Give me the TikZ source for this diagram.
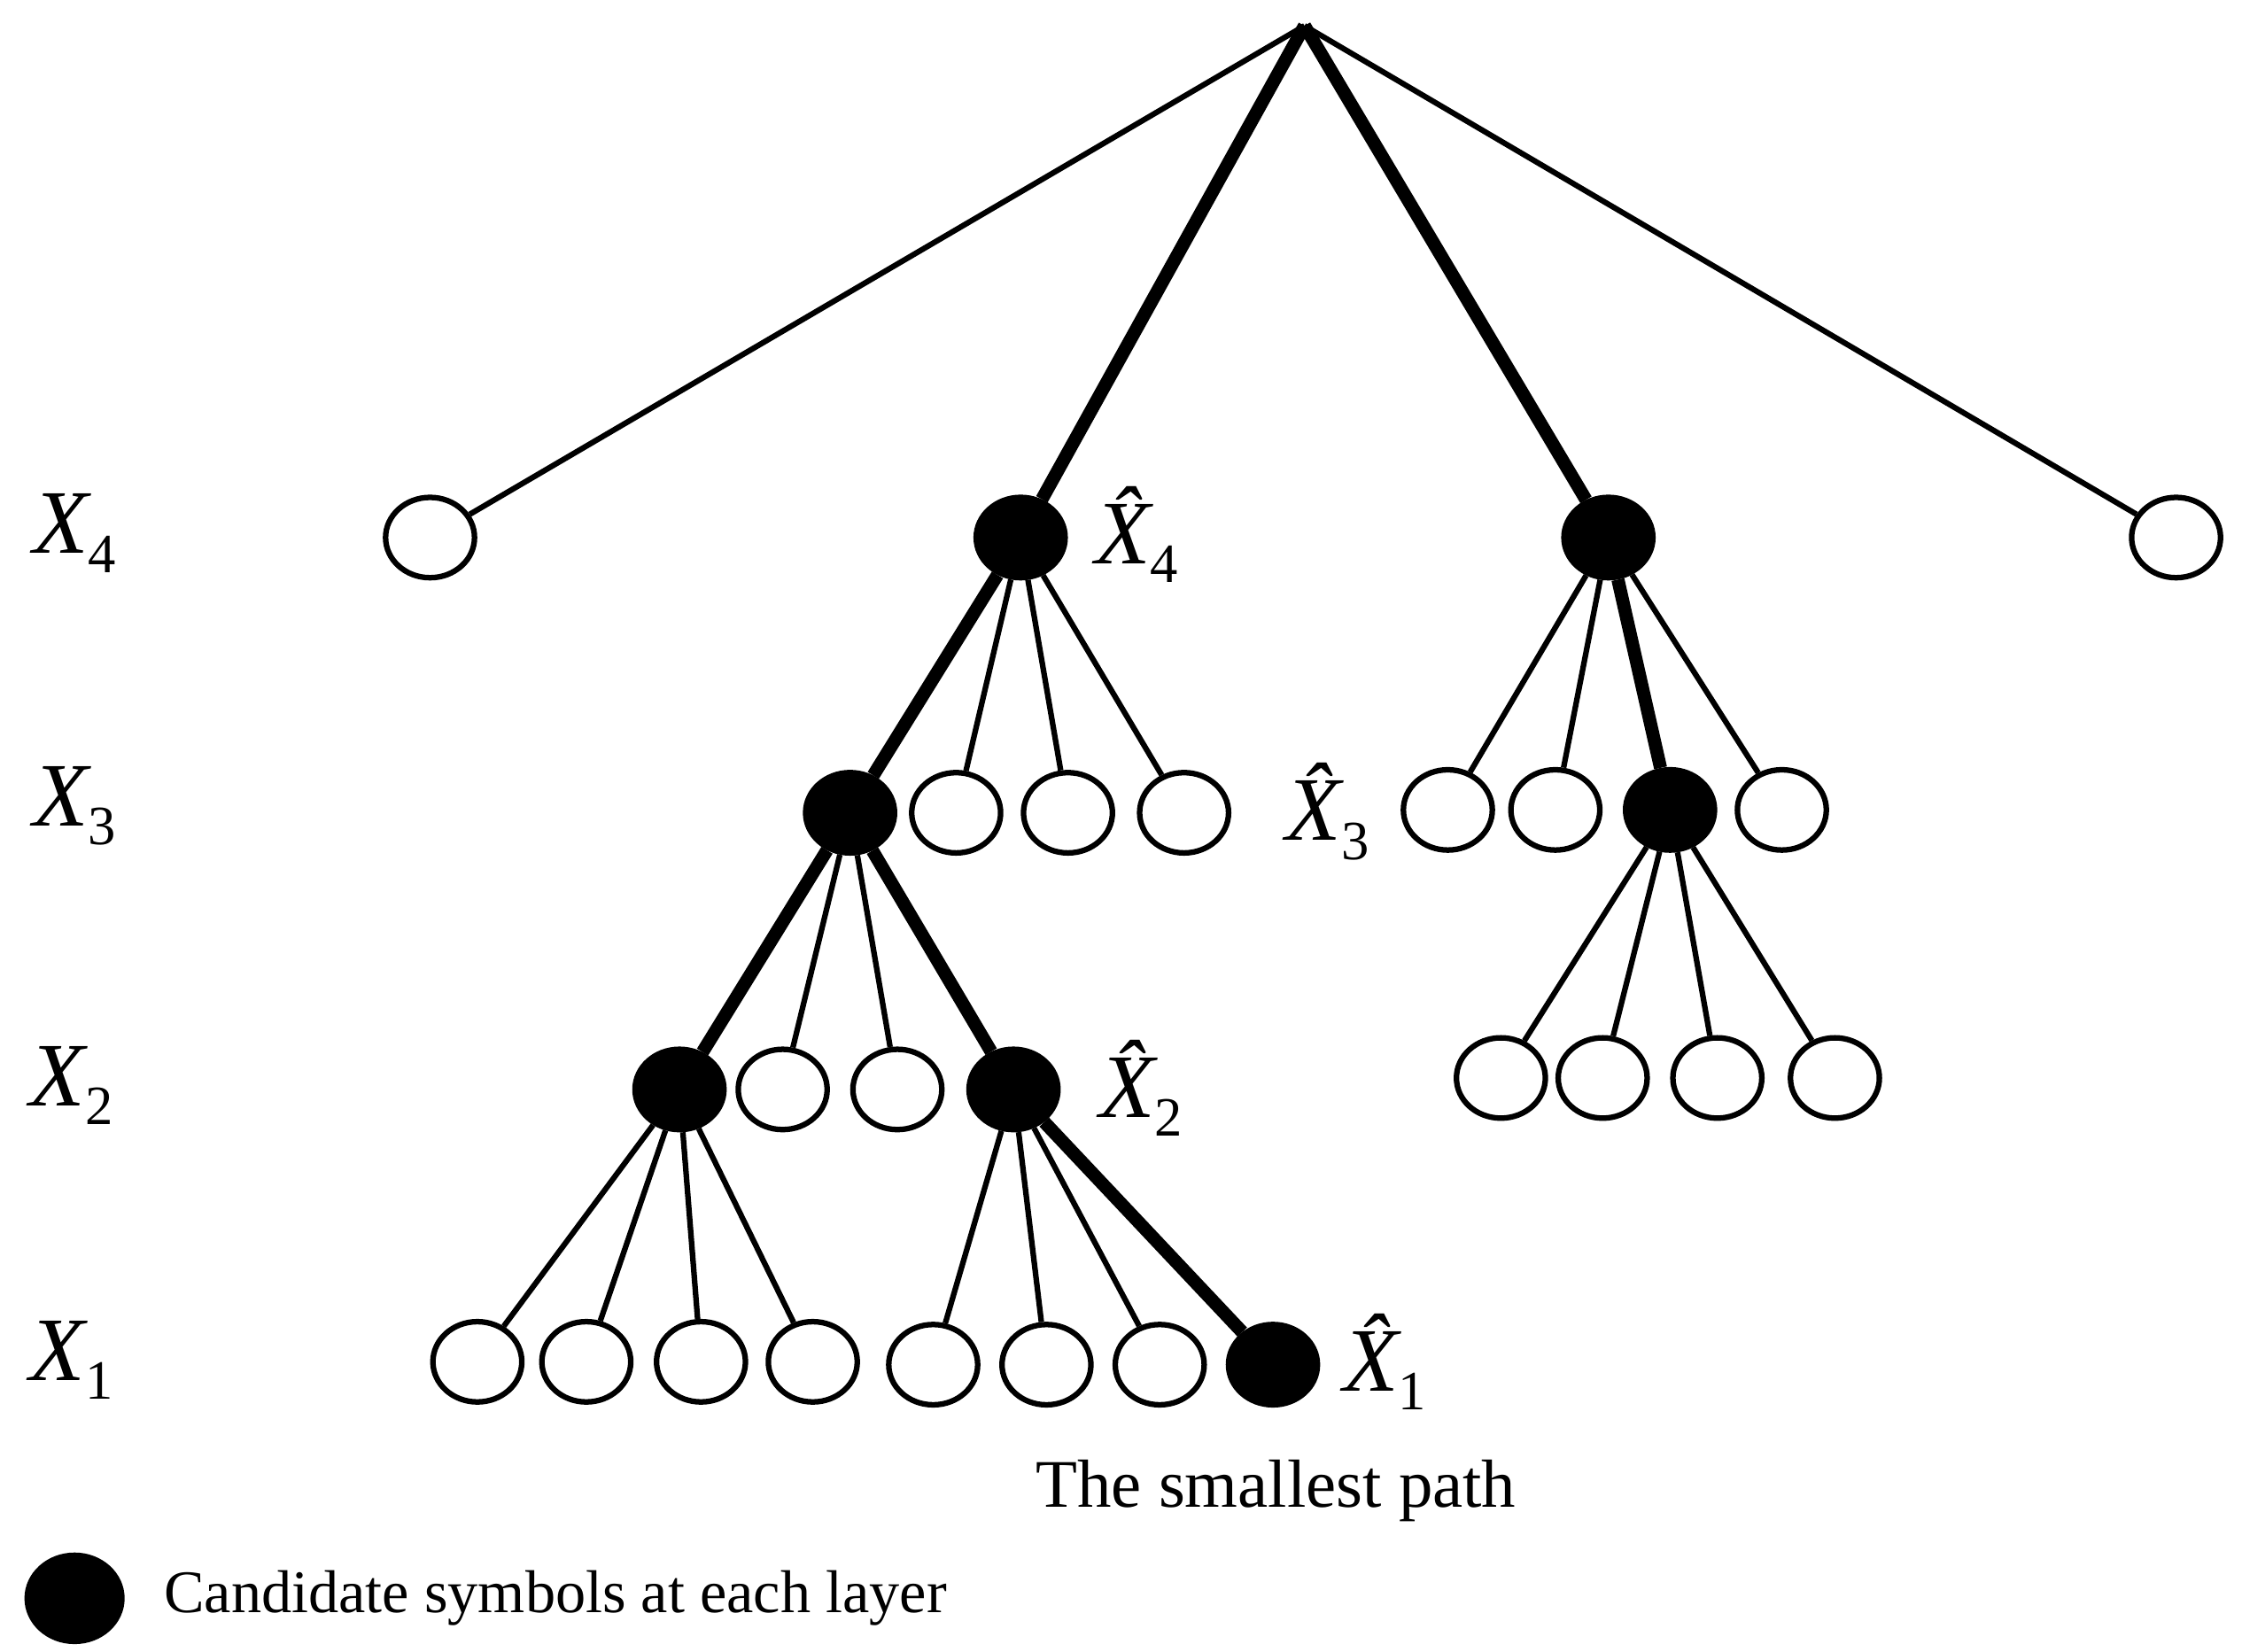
\documentclass[tikz,border=0pt]{standalone}
\usepackage{fontspec}
\setmainfont{Liberation Serif}
\usetikzlibrary{shapes.geometric}
\newcommand{\lx}[1]{{\itshape X}\raisebox{-0.45ex}{\fontsize{11}{12}\selectfont #1}}
\newcommand{\hx}[1]{{\itshape \^{X}}\raisebox{-0.45ex}{\fontsize{11}{12}\selectfont #1}}
\begin{document}
\begin{tikzpicture}[x=0.01cm,y=-0.01cm,
  o/.style={ellipse,draw,line width=1.1pt,minimum width=0.62cm,minimum height=0.56cm,inner sep=0pt,fill=white},
  f/.style={o,fill=black},
  e/.style={line width=1.1pt},
  t/.style={line width=2.6pt},
  lab/.style={font=\fontsize{18}{20}\selectfont}]
\useasboundingbox (0,0) rectangle (1564,1152);
\coordinate (r) at (910,18);
% layer 4
\node[o] (a1) at (300,375) {};
\node[f] (a2) at (712,375) {};
\node[f] (a3) at (1122,375) {};
\node[o] (a4) at (1518,375) {};
% layer 3
\node[f] (b1) at (593,567) {};
\node[o] (b2) at (667,567) {};
\node[o] (b3) at (745,567) {};
\node[o] (b4) at (826,567) {};
\node[o] (c1) at (1010,565) {};
\node[o] (c2) at (1085,565) {};
\node[f] (c3) at (1165,565) {};
\node[o] (c4) at (1243,565) {};
% layer 2
\node[f] (d1) at (474,760) {};
\node[o] (d2) at (546,760) {};
\node[o] (d3) at (626,760) {};
\node[f] (d4) at (707,760) {};
\node[o] (g1) at (1047,752) {};
\node[o] (g2) at (1118,752) {};
\node[o] (g3) at (1198,752) {};
\node[o] (g4) at (1280,752) {};
% layer 1
\node[o] (h1) at (333,950) {};
\node[o] (h2) at (409,950) {};
\node[o] (h3) at (489,950) {};
\node[o] (h4) at (567,950) {};
\node[o] (k1) at (651,952) {};
\node[o] (k2) at (730,952) {};
\node[o] (k3) at (809,952) {};
\node[f] (k4) at (888,952) {};
% edges
\draw[e] (r) -- (a1); \draw[e] (r) -- (a4);
\draw[t] (r) -- (a2); \draw[t] (r) -- (a3);
\draw[t] (a2) -- (b1);
\foreach \n in {b2,b3,b4} \draw[e] (a2) -- (\n);
\foreach \n in {c1,c2,c4} \draw[e] (a3) -- (\n);
\draw[t] (a3) -- (c3);
\draw[t] (b1) -- (d1); \draw[t] (b1) -- (d4);
\foreach \n in {d2,d3} \draw[e] (b1) -- (\n);
\foreach \n in {g1,g2,g3,g4} \draw[e] (c3) -- (\n);
\foreach \n in {h1,h2,h3,h4} \draw[e] (d1) -- (\n);
\foreach \n in {k1,k2,k3} \draw[e] (d4) -- (\n);
\draw[t] (d4) -- (k4);
% labels
\node[lab] (l4) at (52,372) {\lx{4}};
\node[lab] (l3) at (52,562) {\lx{3}};
\node[lab] (l2) at (50,757) {\lx{2}};
\node[lab] (l1) at (50,949) {\lx{1}};
\node[lab] (h4l) at (793,373) {\hx{4}};
\node[lab] (h3l) at (926,566) {\hx{3}};
\node[lab] (h2l) at (796,759) {\hx{2}};
\node[lab] (h1l) at (966,950) {\hx{1}};
\node[font=\fontsize{13.5}{16}\selectfont] (sp) at (890,1040) {The smallest path};
\node[f,minimum width=0.66cm,minimum height=0.6cm] (leg) at (52,1115) {};
\node[font=\fontsize{12}{14}\selectfont,anchor=west] (legt) at (102,1115) {Candidate symbols at each layer};
\end{tikzpicture}
\end{document}
